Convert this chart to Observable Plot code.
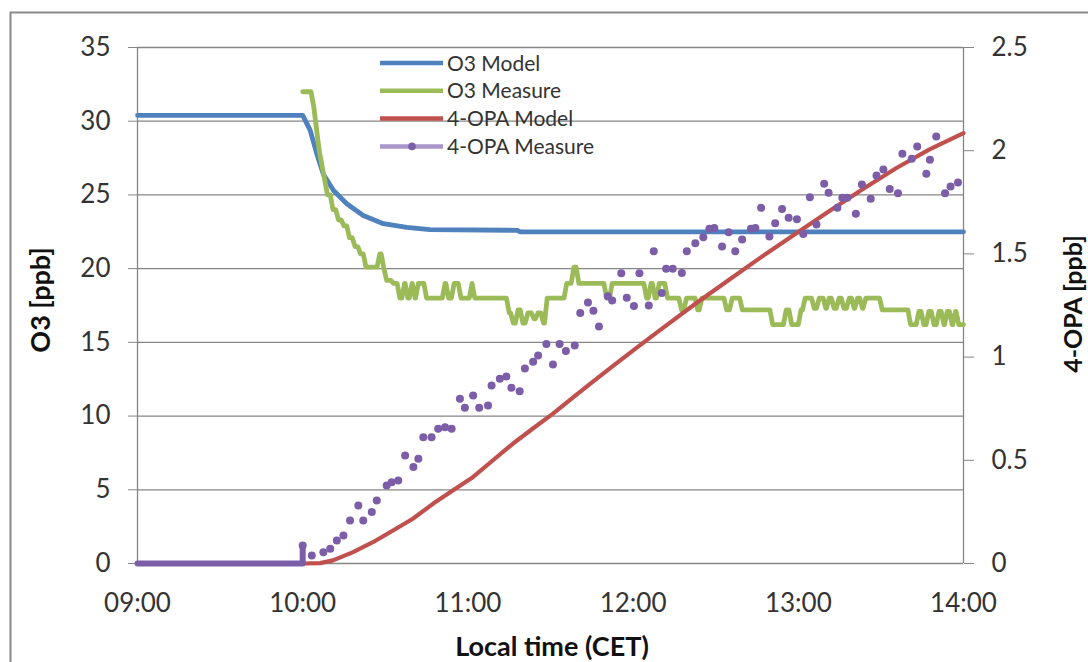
<!DOCTYPE html>
<html>
<head>
<meta charset="utf-8">
<script src="https://cdn.jsdelivr.net/npm/d3@7"></script>
<script src="https://cdn.jsdelivr.net/npm/@observablehq/plot@0.6"></script>
<style>
  html, body { margin: 0; padding: 0; background: #fff; }
  #chart { position: relative; width: 1088px; height: 662px; overflow: hidden; }
</style>
</head>
<body>
<div id="chart"></div>
<script>
// ---- Data (time in minutes after 09:00) ----
const timeTicks = [0, 60, 120, 180, 240, 300];
const o3Ticks = [0, 5, 10, 15, 20, 25, 30, 35];
const opaTicks = [0, 0.5, 1, 1.5, 2, 2.5];

// O3 Model [ppb]
const o3ModelT = [0, 60, 62.7, 65.1, 67.5, 71.2, 76, 82, 89.3, 97.8, 106.2, 138, 139, 300];
const o3ModelV = [30.4, 30.4, 29.4, 27.8, 26.4, 25.3, 24.4, 23.6, 23.05, 22.8, 22.65, 22.6, 22.5, 22.5];

// O3 Measure [ppb] (value changes; each value held until ~1 min before the next change)
const o3MeasT = [60, 64, 65, 66, 67, 68, 69, 71, 73, 75, 77, 79, 81, 83, 88, 89.5, 90.5, 93,
  95.3, 97, 98.2, 99.7, 100.8, 102, 105, 111.7, 113, 115, 117.5, 121.5, 122.5,
  135, 136.5, 138.2, 140, 141.8, 144, 145.5, 147.5, 148.8, 155.9, 158.5, 160.3,
  170.4, 172.4, 184.9, 186.5, 188, 189.5, 192.5, 197.6, 199.4, 203.5, 205, 214, 216, 219.7,
  230.7, 235.6, 237.6, 241, 242.5, 245.8, 247.6, 250, 251.2, 253, 254.8, 256.6, 258.5,
  260.3, 261.5, 263.3, 264.5, 270.5, 280.8, 283.8, 285.6, 287.4, 289.3, 291.1, 292.9,
  294.1, 295.9, 297.1, 298.3, 300];
const o3MeasV = [32, 31, 29.5, 28, 27, 26, 25, 24, 23.3, 22.9, 22.1, 21.5, 21, 20.1, 21, 20, 19.2, 19,
  18, 19, 18, 19, 18, 19, 18, 19, 18, 19, 18, 19, 18,
  17, 16.3, 17.2, 16.3, 17, 16.6, 17, 16.3, 18, 19, 20.1, 19,
  18, 19, 18, 19, 18, 19, 18, 17.2, 18, 17.2, 18, 17.2, 18, 17.2,
  16.2, 17.2, 16.2, 17.2, 18, 17.3, 18, 17.3, 18, 17.3, 18, 17.3, 18,
  17.3, 18, 17.3, 18, 17.2, 16.2, 17.1, 16.2, 17.1, 16.2, 17.1, 16.2,
  17.1, 16.2, 17.1, 16.2, 16.2];

// 4-OPA Model [ppb]
const opaModelT = [60, 66.3, 71, 78.3, 85.5, 92.8, 100, 107.3, 114.5, 121.8, 129, 136.3, 143.5, 150.8,
  158, 165.3, 172.5, 181.6, 190, 203, 215, 226.9, 239.3, 251.3, 263.2, 275.5, 287.5, 300];
const opaModelV = [0, 0.002, 0.015, 0.055, 0.103, 0.16, 0.217, 0.289, 0.354, 0.418, 0.499, 0.58, 0.653, 0.725,
  0.803, 0.88, 0.955, 1.048, 1.133, 1.262, 1.376, 1.488, 1.6, 1.708, 1.812, 1.915, 2.005, 2.085];

// 4-OPA Measure [ppb]: zero baseline before 10:00, then samples
const opaBaseT = [0, 60, 60];
const opaBaseV = [0, 0, 0.087];
const opaMeasT = [60, 63.3, 67.5, 70, 72.4, 74.8, 77.2, 80.2, 82, 85.1, 86.9, 90.5, 92.3, 94.7, 97.2,
  100.2, 102, 103.8, 106.8, 109.2, 111.7, 114.1, 117.1, 118.9, 121.9, 124.1, 127.3, 128.6, 131.6,
  134, 135.8, 138.8, 140.7, 143.7, 145.5, 148.5, 150.9, 153.3, 155.6, 158.8, 160.8, 163.6, 165.6,
  167.6, 170.8, 172.4, 175.7, 177.7, 180.3, 182.3, 185.7, 187.5, 190.4, 192, 194.4, 197.7, 199.5,
  202.6, 205.5, 207.7, 209.5, 212.3, 214.7, 217.1, 219.6, 222.8, 224.4, 226.5, 229.5, 231.6,
  234.1, 236.5, 239.5, 241.8, 244.2, 246.6, 249.4, 251, 254.2, 256, 257.8, 260.9, 263.1, 266.3,
  268.4, 270.9, 273.2, 276.2, 277.8, 281.2, 283.2, 286.5, 287.8, 290.1, 293.3, 295.3, 298];
const opaMeasV = [0.087, 0.039, 0.055, 0.071, 0.111, 0.136, 0.208, 0.281, 0.208, 0.249, 0.305, 0.378, 0.394, 0.402, 0.523,
  0.467, 0.507, 0.612, 0.612, 0.653, 0.66, 0.653, 0.798, 0.754, 0.814, 0.754, 0.766, 0.862, 0.895,
  0.906, 0.851, 0.835, 0.945, 0.978, 1.008, 1.064, 0.964, 1.064, 1.029, 1.056, 1.214, 1.264, 1.224,
  1.148, 1.295, 1.274, 1.406, 1.287, 1.247, 1.406, 1.25, 1.513, 1.31, 1.428, 1.428, 1.408, 1.513,
  1.552, 1.581, 1.622, 1.626, 1.536, 1.605, 1.513, 1.57, 1.622, 1.626, 1.723, 1.584, 1.649,
  1.718, 1.675, 1.668, 1.597, 1.775, 1.642, 1.84, 1.796, 1.723, 1.772, 1.772, 1.694, 1.836, 1.767,
  1.88, 1.909, 1.815, 1.794, 1.985, 1.961, 2.02, 1.888, 1.956, 2.069, 1.794, 1.827, 1.846];

const seriesNames = ["O3 Model", "O3 Measure", "4-OPA Model", "4-OPA Measure"];
const colors = { blue: "#4f81bd", green: "#9bbb59", red: "#c0504d", purple: "#7b5ea7", purpleLight: "#a895c9" };

// ---- build ----
const zip = (T, V) => T.map((t, i) => ({ t, v: V[i] }));
const o3Model = zip(o3ModelT, o3ModelV);
const opaModel = zip(opaModelT, opaModelV);
const opaBase = zip(opaBaseT, opaBaseV);
const opaMeas = zip(opaMeasT, opaMeasV);
// measured O3: hold each reading until one sample (1 min) before the next change
const o3Meas = [];
o3MeasT.forEach((t, i) => {
  o3Meas.push({ t, v: o3MeasV[i] });
  const next = o3MeasT[i + 1];
  if (next !== undefined && next - 1 > t) o3Meas.push({ t: next - 1, v: o3MeasV[i] });
});

const K = 35 / 2.5; // secondary axis factor
const gridColor = "#868686";
const textColor = "#333";
const fmtTime = m => String(9 + m / 60).padStart(2, "0") + ":00";

const chart = Plot.plot({
  width: 1088,
  height: 662,
  marginLeft: 137,
  marginRight: 125,
  marginTop: 47,
  marginBottom: 99,
  style: { fontFamily: "Lato, 'Open Sans', sans-serif", fontSize: "26px", background: "transparent", overflow: "visible" },
  x: { domain: [0, 300] },
  y: { domain: [0, 35] },
  marks: [
    Plot.gridY(o3Ticks, { stroke: gridColor, strokeOpacity: 1, strokeWidth: 1.3 }),
    Plot.ruleX([0, 300], { stroke: gridColor, strokeWidth: 1.3 }),
    Plot.axisY(o3Ticks, { anchor: "left", tickSize: 9, tickPadding: 18, stroke: gridColor, fill: textColor, label: null }),
    Plot.axisY(opaTicks.map(v => v * K), { anchor: "right", tickSize: 10, tickPadding: 18, stroke: gridColor, fill: textColor,
      tickFormat: d => String(+(d / K).toFixed(2)), textAnchor: "start", label: null }),
    Plot.axisX(timeTicks, { anchor: "bottom", tickSize: 0, tickPadding: 30, fill: textColor, tickFormat: fmtTime, label: null }),
    Plot.line(o3Model, { x: "t", y: "v", stroke: colors.blue, strokeWidth: 4.8 }),
    Plot.line(o3Meas, { x: "t", y: "v", stroke: colors.green, strokeWidth: 4.8 }),
    Plot.line(opaModel, { x: "t", y: d => d.v * K, stroke: colors.red, strokeWidth: 4.2 }),
    Plot.line(opaBase, { x: "t", y: d => d.v * K, stroke: colors.purple, strokeWidth: 6 }),
    Plot.dot(opaMeas, { x: "t", y: d => d.v * K, r: 4, fill: colors.purple, stroke: "none" })
  ]
});

document.getElementById("chart").appendChild(chart);

// ---- decorations: frame, axis titles, legend ----
const svg = d3.select(chart);
svg.append("path").attr("d", "M10.5,662V12.5H1088").attr("fill", "none").attr("stroke", "#8a8a8a").attr("stroke-width", 2);

const titleFont = "Lato, 'Open Sans', sans-serif";
svg.append("text").text("Local time (CET)")
  .attr("x", 552).attr("y", 656).attr("text-anchor", "middle")
  .attr("font-family", titleFont).attr("font-weight", "bold").attr("font-size", 27).attr("fill", "#111");
svg.append("text").text("O3 [ppb]")
  .attr("transform", "translate(50,300) rotate(-90)").attr("text-anchor", "middle")
  .attr("font-family", titleFont).attr("font-weight", "bold").attr("font-size", 27).attr("fill", "#111");
svg.append("text").text("4-OPA [ppb]")
  .attr("transform", "translate(1082,304) rotate(-90)").attr("text-anchor", "middle")
  .attr("font-family", titleFont).attr("font-weight", "bold").attr("font-size", 25).attr("fill", "#111");

const legendColors = [colors.blue, colors.green, colors.red, colors.purpleLight];
const lg = svg.append("g").attr("transform", "translate(380,63)");
seriesNames.forEach((name, i) => {
  const y = i * 27.8;
  lg.append("line").attr("x1", 0).attr("x2", 63).attr("y1", y).attr("y2", y)
    .attr("stroke", legendColors[i]).attr("stroke-width", 4.5);
  if (i === 3) lg.append("circle").attr("cx", 32).attr("cy", y).attr("r", 3.8).attr("fill", colors.purple);
  lg.append("text").text(name).attr("x", 67).attr("y", y).attr("dy", "0.36em").attr("text-anchor", "start")
    .attr("font-family", titleFont).attr("font-size", 21).attr("fill", textColor);
});
</script>
</body>
</html>
